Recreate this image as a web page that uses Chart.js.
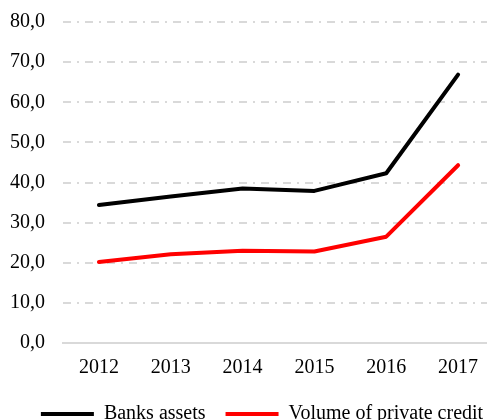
<!DOCTYPE html>
<html>
<head>
<meta charset="utf-8">
<script src="https://cdn.jsdelivr.net/npm/chart.js@4/dist/chart.umd.min.js"></script>
<style>
  html, body { margin: 0; padding: 0; background: #fff; }
  #clip { width: 487px; height: 420px; overflow: hidden; position: relative; }
  canvas { display: block; }
</style>
</head>
<body>
<div id="clip"><canvas id="c" width="520" height="434"></canvas></div>
<script>
const categories = ['2012', '2013', '2014', '2015', '2016', '2017'];
const banksAssets = [34.4, 36.5, 38.5, 37.9, 42.3, 66.9];
const privateCredit = [20.2, 22.1, 23.0, 22.8, 26.5, 44.3];
const seriesNames = ['Banks assets', 'Volume of private credit'];
const yTicks = [0, 10, 20, 30, 40, 50, 60, 70, 80];

const FAMILY = '"Liberation Serif", "Times New Roman", serif';
const FONT = { family: FAMILY, size: 20 };

new Chart(document.getElementById('c'), {
  type: 'line',
  data: {
    labels: categories,
    datasets: [
      { label: seriesNames[0], data: banksAssets, borderColor: '#000000', backgroundColor: '#000000',
        borderWidth: 4, pointRadius: 0, tension: 0, borderCapStyle: 'round', borderJoinStyle: 'round' },
      { label: seriesNames[1], data: privateCredit, borderColor: '#ff0000', backgroundColor: '#ff0000',
        borderWidth: 4, pointRadius: 0, tension: 0, borderCapStyle: 'round', borderJoinStyle: 'round' }
    ]
  },
  options: {
    responsive: false,
    animation: false,
    layout: { padding: { left: 10, right: 6, top: 0, bottom: 0 } },
    plugins: {
      tooltip: { enabled: false },
      legend: {
        position: 'bottom',
        labels: {
          usePointStyle: true,
          pointStyle: 'line',
          pointStyleWidth: 53,
          padding: 20,
          color: '#000',
          font: FONT
        }
      }
    },
    scales: {
      x: {
        offset: true,
        afterFit: (s) => { s.height = 41; },
        grid: { display: false, drawTicks: false },
        border: { display: true, color: '#d9d9d9', width: 2 },
        ticks: { color: '#000', font: FONT, padding: 13, maxRotation: 0 }
      },
      y: {
        min: 0, max: 80,
        afterBuildTicks: (s) => { s.ticks = yTicks.map(v => ({ value: v })); },
        afterFit: (s) => { s.width = 53; },
        grid: { color: '#d9d9d9', lineWidth: 2, drawTicks: false },
        border: { display: false, dash: [8, 6, 2, 6] },
        ticks: {
          color: '#000', font: { family: FAMILY, size: 20, lineHeight: 0.4 }, padding: 18,
          callback: (v) => Number(v).toFixed(1).replace('.', ',')
        }
      },
      yPad: {
        position: 'right',
        min: 0, max: 80,
        afterFit: (s) => { s.width = 20; },
        grid: { display: false, drawTicks: false },
        border: { display: false },
        ticks: { display: false }
      }
    }
  }
});
</script>
</body>
</html>
